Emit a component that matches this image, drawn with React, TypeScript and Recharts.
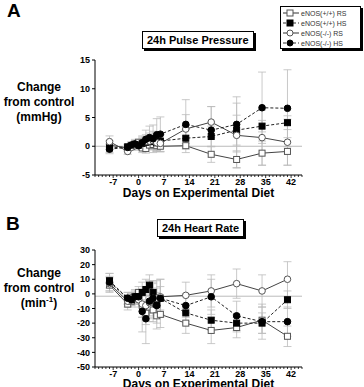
import React from 'react';
import { LineChart, Line, XAxis, YAxis, ReferenceLine, ErrorBar } from 'recharts';

// days on diet (shared by both panels)
const days = [-8, -3, -2, -1, 0, 1, 2, 3, 4, 5, 6, 13, 20, 27, 34, 41];
const dayTicks = Array.from({ length: 58 }, (_, i) => i - 12);

// A: 24h pulse pressure, change from control (mmHg)
const ppWtRS = [0.2, -0.3, 0.1, 0.4, 0.7, -0.3, -0.4, 0.2, 0.3, 0.1, 0.0, 0.1, -1.4, -2.3, -1.2, -0.9];
const ppWtRSErr = [0.8, 0.5, 0.5, 0.5, 0.5, 0.8, 0.8, 0.8, 0.9, 0.9, 0.9, 1.2, 1.4, 1.5, 2.1, 2.4];
const ppWtHS = [-0.3, -0.1, 0.0, 0.3, 0.2, 0.5, 0.7, 0.8, 0.9, 0.6, 0.9, 1.4, 1.7, 2.8, 3.5, 4.1];
const ppWtHSErr = [0.8, 0.5, 0.5, 0.6, 0.6, 0.9, 1.0, 1.0, 1.2, 1.2, 1.2, 1.5, 1.8, 2.6, 1.0, 1.2];
const ppKoRS = [0.8, -0.9, -0.2, 0.1, 0.2, 0.6, 0.8, 0.9, 1.0, 0.6, 0.5, 3.0, 4.2, 1.9, 1.5, 0.7];
const ppKoRSErr = [1.0, 0.5, 0.5, 0.6, 0.6, 1.0, 1.2, 1.4, 1.6, 1.5, 1.5, 2.5, 2.7, 5.6, 4.8, 4.0];
const ppKoHS = [-0.5, -0.2, 0.2, 0.4, 0.1, 0.6, 1.2, 1.5, 1.3, 2.0, 2.1, 3.8, 2.8, 3.8, 6.7, 6.6];
const ppKoHSErr = [0.8, 0.5, 0.6, 0.8, 0.8, 1.2, 1.6, 2.0, 2.4, 2.8, 3.0, 4.3, 4.1, 4.8, 6.2, 6.7];
const ppTicks = [-5, 0, 5, 10, 15];

// B: 24h heart rate, change from control (min-1)
const hrWtRS = [6, -7, -5, -3, 1, -8, -13, -9, -11, -15, -14, -20, -25, -23, -18, -29];
const hrWtRSErr = [5, 4, 4, 4, 4, 8, 8, 8, 8, 9, 9, 7, 9, 7, 9, 7];
const hrWtHS = [9, -3, -4, -2, -2, 1, 3, 6, 1, -7, -3, -13, -18, -20, -20, -4];
const hrWtHSErr = [5, 4, 4, 4, 4, 7, 7, 7, 7, 8, 8, 6, 7, 6, 7, 6];
const hrKoRS = [7, -5, -3, -3, -4, -7, -8, -6, -3, -3, -2, -1, 2, 7, 2, 10];
const hrKoRSErr = [5, 4, 4, 4, 5, 9, 10, 10, 10, 12, 12, 9, 11, 10, 11, 12];
const hrKoHS = [8, -3, -4, -2, -2, -12, -17, -5, -3, -8, -3, -8, -2, -15, -19, -19];
const hrKoHSErr = [6, 4, 4, 5, 5, 14, 17, 14, 12, 12, 13, 8, 12, 10, 12, 10];
const hrTicks = [-50, -40, -30, -20, -10, 0, 10, 20, 30];

const legendNames = ['eNOS(+/+) RS', 'eNOS(+/+) HS', 'eNOS(-/-) RS', 'eNOS(-/-) HS'];

const ppData = days.map((d, i) => ({
    day: d,
    wtRS: ppWtRS[i], wtRSErr: ppWtRSErr[i],
    wtHS: ppWtHS[i], wtHSErr: ppWtHSErr[i],
    koRS: ppKoRS[i], koRSErr: ppKoRSErr[i],
    koHS: ppKoHS[i], koHSErr: ppKoHSErr[i],
}));

const hrData = days.map((d, i) => ({
    day: d,
    wtRS: hrWtRS[i], wtRSErr: hrWtRSErr[i],
    wtHS: hrWtHS[i], wtHSErr: hrWtHSErr[i],
    koRS: hrKoRS[i], koRSErr: hrKoRSErr[i],
    koHS: hrKoHS[i], koHSErr: hrKoHSErr[i],
}));

const FONT = 'Arial, "Liberation Sans", Helvetica, sans-serif';

const squareDot = (filled: boolean) => (p: any) => {
    if (p.cx == null || p.cy == null) return <g key={`sq-${p.index}`} />;
    return (
        <rect key={`sq-${filled}-${p.index}`} x={p.cx - 3} y={p.cy - 3} width={6} height={6}
            fill={filled ? '#000' : '#fff'} stroke={filled ? '#000' : '#555'} strokeWidth={1} />
    );
};

const circleDot = (filled: boolean) => (p: any) => {
    if (p.cx == null || p.cy == null) return <g key={`ci-${p.index}`} />;
    return (
        <circle key={`ci-${filled}-${p.index}`} cx={p.cx} cy={p.cy} r={3.3}
            fill={filled ? '#000' : '#fff'} stroke={filled ? '#000' : '#555'} strokeWidth={1} />
    );
};

// every day gets a small tick, every week a label
const DayTick = (props: any) => {
    const { x, y, payload } = props;
    const major = payload.value % 7 === 0;
    return (
        <g>
            <line x1={x} x2={x} y1={y} y2={y + (major ? 3 : 2)} stroke="#000" strokeWidth={0.8} />
            {major && (
                <text x={x} y={y + 10} textAnchor="middle" fontSize={9} fontWeight="bold" fill="#000" fontFamily={FONT}>
                    {payload.value}
                </text>
            )}
        </g>
    );
};

const Panel: React.FC<{ data: any[]; domain: [number, number]; ticks: number[]; refY: number; height: number; top: number }> = ({ data, domain, ticks, refY, height, top }) => (
    <LineChart width={364} height={height} data={data} margin={{ top, right: 62, left: 70, bottom: 0 }}>
        <XAxis dataKey="day" type="number" domain={[-12, 45]} ticks={dayTicks} interval={0}
            tick={<DayTick />} tickLine={false} tickSize={0} tickMargin={0} height={20}
            axisLine={{ stroke: '#000', strokeWidth: 1 }} allowDataOverflow />
        <YAxis type="number" domain={domain} ticks={ticks} interval={0} width={25} tickSize={3}
            tick={{ fontSize: 9, fontWeight: 'bold', fill: '#000', fontFamily: FONT }}
            tickLine={{ stroke: '#000' }} axisLine={{ stroke: '#000', strokeWidth: 1 }} />
        <ReferenceLine y={refY} stroke="#bbb" strokeWidth={1} />
        <Line dataKey="wtRS" stroke="#444" strokeWidth={1} dot={squareDot(false)} isAnimationActive={false}>
            <ErrorBar dataKey="wtRSErr" width={4} stroke="#bbb" strokeWidth={0.8} direction="y" />
        </Line>
        <Line dataKey="wtHS" stroke="#222" strokeWidth={1} strokeDasharray="3 2" dot={squareDot(true)} isAnimationActive={false}>
            <ErrorBar dataKey="wtHSErr" width={4} stroke="#bbb" strokeWidth={0.8} direction="y" />
        </Line>
        <Line dataKey="koRS" stroke="#444" strokeWidth={1} dot={circleDot(false)} isAnimationActive={false}>
            <ErrorBar dataKey="koRSErr" width={4} stroke="#bbb" strokeWidth={0.8} direction="y" />
        </Line>
        <Line dataKey="koHS" stroke="#222" strokeWidth={1} strokeDasharray="3 2" dot={circleDot(true)} isAnimationActive={false}>
            <ErrorBar dataKey="koHSErr" width={4} stroke="#bbb" strokeWidth={0.8} direction="y" />
        </Line>
    </LineChart>
);

const TitleBox: React.FC<{ text: string; left: number; top: number }> = ({ text, left, top }) => (
    <div style={{
        position: 'absolute', left, top, border: '1px solid #000', boxShadow: '2px 2px 0 #000',
        background: '#fff', padding: '1px 4px', fontSize: 11, fontWeight: 'bold', lineHeight: '14px', whiteSpace: 'nowrap',
    }}>{text}</div>
);

const LegendIcon: React.FC<{ idx: number }> = ({ idx }) => {
    const filled = idx % 2 === 1;
    const square = idx < 2;
    return (
        <svg width={16} height={8} style={{ display: 'block' }}>
            <line x1={0} x2={16} y1={4} y2={4} stroke="#333" strokeWidth={1} strokeDasharray={filled ? '3 2' : undefined} />
            {square
                ? <rect x={4} y={1} width={6} height={6} fill={filled ? '#000' : '#fff'} stroke={filled ? '#000' : '#555'} />
                : <circle cx={7} cy={4} r={3} fill={filled ? '#000' : '#fff'} stroke={filled ? '#000' : '#555'} />}
        </svg>
    );
};

export default function App() {
    const yLabel: React.CSSProperties = {
        position: 'absolute', left: 0, width: 78, textAlign: 'center', fontSize: 12, fontWeight: 'bold', lineHeight: '15px',
    };
    return (
        <div style={{ position: 'absolute', left: 0, top: 0, width: 364, height: 387, background: '#fff', fontFamily: FONT, color: '#000', overflow: 'hidden' }}>
            <div style={{ position: 'absolute', left: 0, top: 0 }}>
                <Panel data={ppData} domain={[-5, 15]} ticks={ppTicks} refY={0} height={195} top={60} />
            </div>
            <div style={{ position: 'absolute', left: 0, top: 200 }}>
                <Panel data={hrData} domain={[-50, 30]} ticks={hrTicks} refY={-1.6} height={187} top={50} />
            </div>

            <div style={{ position: 'absolute', left: 7, top: 0, fontSize: 19, fontWeight: 'bold' }}>A</div>
            <div style={{ position: 'absolute', left: 6, top: 213, fontSize: 19, fontWeight: 'bold' }}>B</div>

            <TitleBox text="24h Pulse Pressure" left={142} top={31} />
            <TitleBox text="24h Heart Rate" left={157} top={219} />

            <div style={{ ...yLabel, top: 80 }}>Change<br />from control<br />(mmHg)</div>
            <div style={{ ...yLabel, top: 266 }}>Change<br />from control<br />(min<sup style={{ fontSize: 8, lineHeight: 0 }}>-1</sup>)</div>

            <div style={{ position: 'absolute', left: 95, width: 207, top: 186, textAlign: 'center', fontSize: 12, fontWeight: 'bold' }}>Days on Experimental Diet</div>
            <div style={{ position: 'absolute', left: 95, width: 207, top: 377, textAlign: 'center', fontSize: 12, fontWeight: 'bold' }}>Days on Experimental Diet</div>

            <div style={{
                position: 'absolute', left: 280, top: 6, width: 81, height: 43, border: '1px solid #000',
                boxShadow: '2px 2px 0 #000', background: '#fff', boxSizing: 'border-box', padding: '1px 2px',
            }}>
                {legendNames.map((n, i) => (
                    <div key={n} style={{ display: 'flex', alignItems: 'center', height: 10 }}>
                        <LegendIcon idx={i} />
                        <span style={{ fontSize: 7, color: '#333', marginLeft: 2, whiteSpace: 'nowrap' }}>{n}</span>
                    </div>
                ))}
            </div>
        </div>
    );
}
